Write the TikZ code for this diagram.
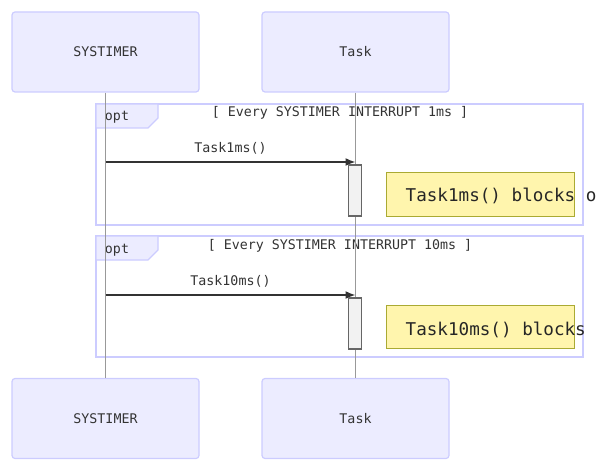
\documentclass[tikz,border=0pt]{standalone}
\usepackage{fontspec}
\setmonofont{DejaVu Sans Mono}
\usetikzlibrary{positioning,arrows.meta}
\definecolor{actfill}{HTML}{ECECFF}
\definecolor{actline}{HTML}{CCCCFF}
\definecolor{notefill}{HTML}{FFF5AD}
\definecolor{noteline}{HTML}{AAAA33}
\definecolor{txt}{HTML}{333333}
\tikzset{
	actor/.style={draw=actline,fill=actfill,rounded corners=3pt,line width=1.2pt,minimum width=187pt,minimum height=80pt,text=txt,font=\ttfamily\fontsize{13.3}{15}\selectfont},
	lifeline/.style={draw=black!40,line width=0.9pt},
	loopbox/.style={draw=actline,line width=2.5pt},
	label/.style={text=txt,font=\ttfamily\fontsize{13.3}{15}\selectfont,inner sep=0pt},
	activation/.style={draw=black!60,fill=black!5,line width=1.2pt,minimum width=13pt,minimum height=51pt,inner sep=0pt},
	note/.style={draw=noteline,fill=notefill,line width=1pt,minimum width=188pt,minimum height=43pt,inner sep=0pt},
	notetext/.style={text=black!85,font=\ttfamily\fontsize{17.6}{21}\selectfont,inner sep=0pt,anchor=west},
	msg/.style={draw=txt,line width=1.6pt,-{Latex[length=10pt,width=8pt]}}
}
\begin{document}
\begin{tikzpicture}[x=1pt,y=-1pt]
		\useasboundingbox (0,0) rectangle (604,470);
		% actors
		\node[actor] (sysTop) at (105.5,52) {SYSTIMER};
		\node[actor] (taskTop) at (355.5,52) {Task};
		\node[actor] (sysBot) at (105.5,418.5) {SYSTIMER};
		\node[actor] (taskBot) at (355.5,418.5) {Task};
		% opt blocks
		\draw[loopbox] (96,104) rectangle (583,225);
		\draw[loopbox,fill=actfill,line width=1.2pt] (96,104)--(158,104)--(158,118)--(148,128)--(96,128)--cycle;
		\node[label] (opt1) at (117,117) {opt};
		\node[label] (cond1) at (340,113) {[ Every SYSTIMER INTERRUPT 1ms ]};
		\draw[loopbox] (96,236) rectangle (583,357);
		\draw[loopbox,fill=actfill,line width=1.2pt] (96,236)--(158,236)--(158,250)--(148,260)--(96,260)--cycle;
		\node[label] (opt2) at (117,250) {opt};
		\node[label] (cond2) at (340,246) {[ Every SYSTIMER INTERRUPT 10ms ]};
		% lifelines
		\draw[lifeline] (sysTop) -- (sysBot);
		\draw[lifeline] (taskTop) -- (taskBot);
		% messages
		\coordinate (m1a) at (105.5,162);
		\coordinate (m1b) at (355.5,162);
		\draw[msg] (m1a) -- (m1b) node[label,midway,above=7pt]{Task1ms()};
		\node[activation] (act1) at (355,190.5) {};
		\coordinate (m2a) at (105.5,295);
		\coordinate (m2b) at (355.5,295);
		\draw[msg] (m2a) -- (m2b) node[label,midway,above=7pt]{Task10ms()};
		\node[activation] (act2) at (355,323.5) {};
		% notes
		\node[note] (note1) at (480,194.5) {};
		\node[notetext] at ([xshift=20pt,yshift=-1.5pt]note1.west) {Task1ms() blocks o};
		\node[note] (note2) at (480,326.5) {};
		\node[notetext] at ([xshift=20pt,yshift=-3pt]note2.west) {Task10ms() blocks};
\end{tikzpicture}
\end{document}
